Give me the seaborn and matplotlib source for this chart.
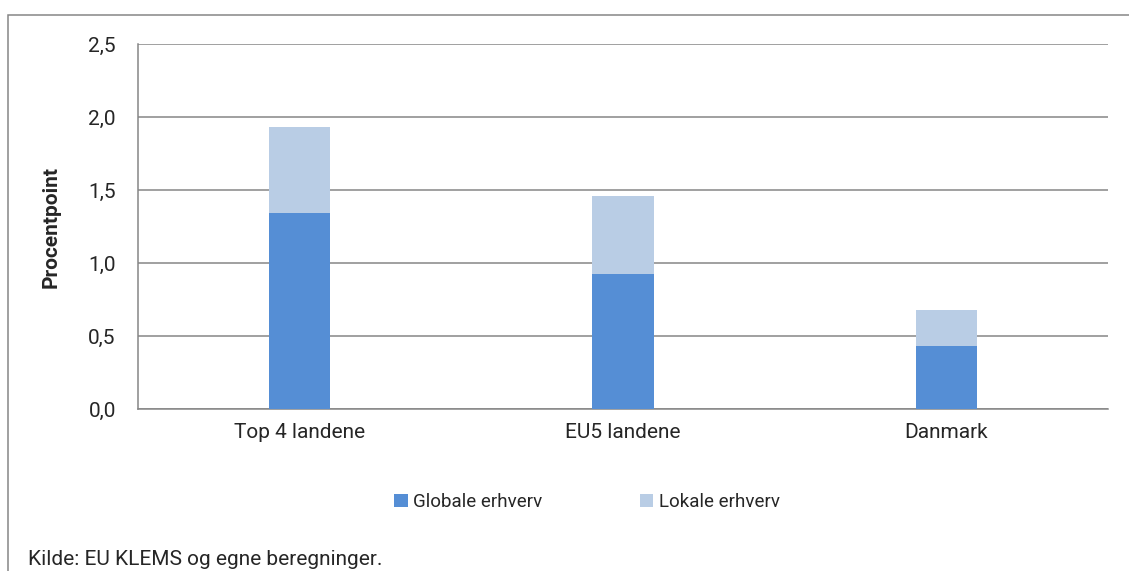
import matplotlib
matplotlib.use("Agg")
import matplotlib.pyplot as plt
from matplotlib.patches import Rectangle, Patch
import seaborn as sns
import pandas as pd

categories = ["Top 4 landene", "EU5 landene", "Danmark"]
globale = [1.345, 0.925, 0.43]
lokale = [0.585, 0.535, 0.25]
y_ticks = [0.0, 0.5, 1.0, 1.5, 2.0, 2.5]
y_tick_labels = ["0,0", "0,5", "1,0", "1,5", "2,0", "2,5"]

sns.set_style("white")
plt.rcParams["font.family"] = ["Roboto", "DejaVu Sans"]

dark = "#558ED5"
light = "#B9CDE5"
grey = "#868686"
fs = 15

W, H = 1129, 571
fig = plt.figure(figsize=(W / 100, H / 100), dpi=100)
ax = fig.add_axes([138 / W, (H - 409) / H, (1108 - 138) / W, (409 - 44) / H])

df = pd.DataFrame({"kategori": categories, "globale": globale, "lokale": lokale})
df["total"] = df["globale"] + df["lokale"]

sns.barplot(data=df, x="kategori", y="total", color=light, width=0.19,
            saturation=1, linewidth=0, ax=ax, zorder=3)
sns.barplot(data=df, x="kategori", y="globale", color=dark, width=0.19,
            saturation=1, linewidth=0, ax=ax, zorder=4)

ax.set_xlim(-0.5, len(categories) - 0.5)
ax.set_ylim(0, 2.5)
ax.set_yticks(y_ticks)
ax.set_yticklabels(y_tick_labels)
ax.set_xlabel("")
ax.set_ylabel("Procentpoint", fontsize=fs, fontweight="bold", labelpad=20)

# horizontal gridlines
ax.yaxis.grid(True, color=grey, linewidth=1.1, zorder=0)
ax.set_axisbelow(True)

for side in ["top", "right"]:
    ax.spines[side].set_visible(False)
for side in ["left", "bottom"]:
    ax.spines[side].set_color(grey)
    ax.spines[side].set_linewidth(1.1)

# category ticks sit on the boundaries between groups
ax.set_xticks(range(len(categories)))
ax.set_xticklabels(categories, fontsize=fs)
ax.set_xticks([i - 0.5 for i in range(len(categories) + 1)], minor=True)
ax.tick_params(axis="x", which="major", length=0, pad=10)
ax.tick_params(axis="x", which="minor", length=6, width=1.1, color=grey, direction="out")
ax.tick_params(axis="y", length=6, width=1.1, color=grey, direction="out",
               labelsize=fs, pad=10)

handles = [Patch(facecolor=dark, edgecolor="none", label="Globale erhverv"),
           Patch(facecolor=light, edgecolor="none", label="Lokale erhverv")]
fig.legend(handles=handles, loc="center", bbox_to_anchor=(587 / W, (H - 502) / H),
           ncol=2, frameon=False, fontsize=13.5, handlelength=0.7, handleheight=0.7,
           handletextpad=0.3, columnspacing=5.2)

fig.text(28 / W, (H - 569) / H, "Kilde: EU KLEMS og egne beregninger.",
         fontsize=fs, ha="left", va="bottom")

# outer chart frame
fig.patches.append(Rectangle((8 / W, -0.1), 1.2, (H - 15) / H + 0.1,
                             transform=fig.transFigure, fill=False,
                             edgecolor=grey, linewidth=1.1, clip_on=False))

fig.savefig("out.png", dpi=100)
